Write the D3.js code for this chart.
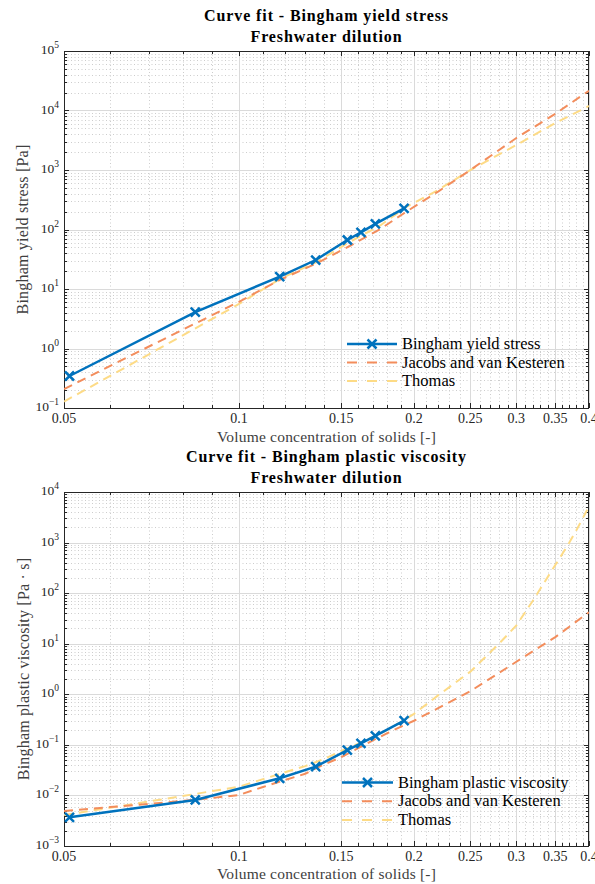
<!DOCTYPE html>
<html>
<head>
<meta charset="utf-8">
<script src="https://cdn.jsdelivr.net/npm/d3@7"></script>
<style>
  body { margin: 0; background: #fff; }
  text { font-family: "Liberation Serif", "Times New Roman", serif; }
</style>
</head>
<body>
<div id="chart"></div>
<script>
// x ticks shared by both panels
const xTicks = [0.05, 0.1, 0.15, 0.2, 0.25, 0.3, 0.35, 0.4];
const xTickLabels = ["0.05", "0.1", "0.15", "0.2", "0.25", "0.3", "0.35", "0.4"];

// measured points (volume concentration)
const measX = [0.0511, 0.0841, 0.1175, 0.1355, 0.1536, 0.1621, 0.1716, 0.1923];
const yieldMeas = [0.345, 4.1, 16.1, 30.7, 66.6, 89.7, 124, 227];
const viscMeas = [0.00369, 0.00813, 0.0218, 0.037, 0.079, 0.107, 0.150, 0.30];

// yield stress fits
const yieldFitX = [0.05, 0.07, 0.1, 0.1175, 0.136, 0.155, 0.175, 0.194, 0.22, 0.25, 0.3, 0.35, 0.4];
const yieldJvK = [0.208, 1.08, 6.1, 14.2, 27.0, 52.8, 102, 199, 434, 1000, 3450, 8800, 21500];
const yieldThomas = [0.128, 0.80, 5.6, 14.7, 28.4, 61.7, 117, 239, 461, 1000, 2630, 6170, 11900];

// plastic viscosity fits
const viscJvKX = [0.05, 0.06, 0.07, 0.08, 0.09, 0.1, 0.11, 0.12, 0.13, 0.14, 0.15, 0.16, 0.17, 0.18, 0.19, 0.2, 0.25, 0.3, 0.35, 0.4];
const viscJvK = [0.0049, 0.0059, 0.0068, 0.0078, 0.0089, 0.0102, 0.0147, 0.0202, 0.0268, 0.041, 0.057, 0.085, 0.123, 0.17, 0.23, 0.30, 1.15, 4.4, 13.5, 42];
const viscThomasX = [0.05, 0.06, 0.07, 0.08, 0.09, 0.1, 0.11, 0.12, 0.13, 0.14, 0.15, 0.16, 0.17, 0.18, 0.19, 0.2, 0.22, 0.25, 0.28, 0.3, 0.32, 0.35, 0.36, 0.37, 0.38, 0.39, 0.4];
const viscThomas = [0.0041, 0.0057, 0.0076, 0.0097, 0.0122, 0.0149, 0.021, 0.0287, 0.038, 0.0525, 0.0757, 0.104, 0.143, 0.197, 0.283, 0.41, 0.95, 2.8, 10, 23, 70, 360, 600, 1000, 1700, 3000, 5200];

const blue = "#0072BD", orange = "#F38D5C", yellow = "#FDDB86";
const axisCol = "#262626";

const svg = d3.select("#chart").append("svg")
  .attr("width", 595)
  .attr("height", 884);

function panel(cfg) {
  const left = 64, right = 589;
  const x = d3.scaleLog().domain([0.05, 0.4]).range([left, right]);
  const y = d3.scaleLog().domain(cfg.yDomain).range([cfg.bottom, cfg.top]);
  const g = svg.append("g");
  const px = v => Math.round(v) + 0.5;

  const e0 = Math.round(Math.log10(cfg.yDomain[0])), e1 = Math.round(Math.log10(cfg.yDomain[1]));
  const yMajor = d3.range(e0, e1 + 1).map(e => Math.pow(10, e));
  const yMinor = [];
  d3.range(e0, e1).forEach(e => { for (let m = 2; m <= 9; m++) yMinor.push(m * Math.pow(10, e)); });
  const xMinor = d3.range(6, 40).map(d => d / 100).filter(d => xTicks.indexOf(d) < 0);

  // minor grid (dotted)
  g.selectAll(".gyminor").data(yMinor).join("line")
    .attr("x1", left).attr("x2", right)
    .attr("y1", d => px(y(d))).attr("y2", d => px(y(d)))
    .attr("stroke", "#cdcdcd").attr("stroke-dasharray", "1,2.5");
  g.selectAll(".gxminor").data(xMinor).join("line")
    .attr("x1", d => px(x(d))).attr("x2", d => px(x(d)))
    .attr("y1", cfg.top).attr("y2", cfg.bottom)
    .attr("stroke", "#cdcdcd").attr("stroke-dasharray", "1,2.5");

  // major grid
  g.selectAll(".gymajor").data(yMajor).join("line")
    .attr("x1", left).attr("x2", right)
    .attr("y1", d => px(y(d))).attr("y2", d => px(y(d)))
    .attr("stroke", "#dadada");
  g.selectAll(".gxmajor").data(xTicks).join("line")
    .attr("x1", d => px(x(d))).attr("x2", d => px(x(d)))
    .attr("y1", cfg.top).attr("y2", cfg.bottom)
    .attr("stroke", "#dadada");

  // ticks on all four sides (inward)
  const tk = g.append("g").attr("stroke", axisCol);
  xTicks.forEach(d => {
    tk.append("line").attr("x1", px(x(d))).attr("x2", px(x(d))).attr("y1", cfg.bottom).attr("y2", cfg.bottom - 5);
    tk.append("line").attr("x1", px(x(d))).attr("x2", px(x(d))).attr("y1", cfg.top).attr("y2", cfg.top + 5);
  });
  xMinor.forEach(d => {
    tk.append("line").attr("x1", px(x(d))).attr("x2", px(x(d))).attr("y1", cfg.bottom).attr("y2", cfg.bottom - 3);
    tk.append("line").attr("x1", px(x(d))).attr("x2", px(x(d))).attr("y1", cfg.top).attr("y2", cfg.top + 3);
  });
  yMajor.forEach(d => {
    tk.append("line").attr("y1", px(y(d))).attr("y2", px(y(d))).attr("x1", left).attr("x2", left + 5);
    tk.append("line").attr("y1", px(y(d))).attr("y2", px(y(d))).attr("x1", right).attr("x2", right - 5);
  });
  yMinor.forEach(d => {
    tk.append("line").attr("y1", px(y(d))).attr("y2", px(y(d))).attr("x1", left).attr("x2", left + 3);
    tk.append("line").attr("y1", px(y(d))).attr("y2", px(y(d))).attr("x1", right).attr("x2", right - 3);
  });

  // box
  g.append("rect")
    .attr("x", left + 0.5).attr("y", cfg.top + 0.5)
    .attr("width", right - left - 1).attr("height", cfg.bottom - cfg.top)
    .attr("fill", "none").attr("stroke", axisCol);

  // tick labels
  g.selectAll(".xtl").data(xTicks).join("text")
    .attr("x", d => x(d)).attr("y", cfg.bottom + 15)
    .attr("text-anchor", "middle").attr("font-size", 14)
    .attr("fill", axisCol)
    .text((d, i) => xTickLabels[i]);
  const ytl = g.selectAll(".ytl").data(yMajor).join("text")
    .attr("x", 59).attr("y", d => y(d) + 3)
    .attr("text-anchor", "end").attr("font-size", 13.5)
    .attr("fill", axisCol);
  ytl.append("tspan").text("10");
  ytl.append("tspan").attr("dy", -6).attr("font-size", 9.5)
    .text(d => String(Math.round(Math.log10(d))).replace("-", "\u2212"));

  // titles and axis labels
  cfg.title.forEach((t, i) => {
    svg.append("text").attr("x", (left + right) / 2).attr("y", cfg.titleY[i])
      .attr("text-anchor", "middle").attr("font-size", 16).attr("font-weight", "bold")
      .attr("letter-spacing", 0.9).attr("fill", "#000").text(t);
  });
  svg.append("text").attr("x", (left + right) / 2).attr("y", cfg.xLabelY)
    .attr("text-anchor", "middle").attr("font-size", 15.5).attr("letter-spacing", 0.2)
    .attr("fill", "#404040").text("Volume concentration of solids [-]");
  svg.append("text")
    .attr("transform", `translate(${cfg.yLabelX},${(cfg.top + cfg.bottom) / 2}) rotate(-90)`)
    .attr("text-anchor", "middle").attr("font-size", 16).attr("letter-spacing", 0.2)
    .attr("fill", "#404040").text(cfg.yLabel);

  // data
  const clipId = "clip" + cfg.top;
  svg.append("clipPath").attr("id", clipId).append("rect")
    .attr("x", left).attr("y", cfg.top).attr("width", right - left).attr("height", cfg.bottom - cfg.top);
  const plot = svg.append("g").attr("clip-path", `url(#${clipId})`);
  const line = d3.line().x(d => x(d[0])).y(d => y(d[1]));

  plot.append("path").datum(d3.zip(cfg.thomasX, cfg.thomas))
    .attr("d", line).attr("fill", "none").attr("stroke", yellow)
    .attr("stroke-width", 2).attr("stroke-dasharray", "9,6");
  plot.append("path").datum(d3.zip(cfg.jvkX, cfg.jvk))
    .attr("d", line).attr("fill", "none").attr("stroke", orange)
    .attr("stroke-width", 2).attr("stroke-dasharray", "9,6");
  plot.append("path").datum(d3.zip(measX, cfg.meas))
    .attr("d", line).attr("fill", "none").attr("stroke", blue)
    .attr("stroke-width", 2.5);
  const mk = 4.5;
  plot.selectAll(".mk").data(d3.zip(measX, cfg.meas)).join("path")
    .attr("d", d => {
      const cx = x(d[0]), cy = y(d[1]);
      return `M${cx - mk},${cy - mk}L${cx + mk},${cy + mk}M${cx - mk},${cy + mk}L${cx + mk},${cy - mk}`;
    })
    .attr("stroke", blue).attr("stroke-width", 2.5).attr("fill", "none");

  // legend
  const lg = svg.append("g");
  const items = [
    { name: cfg.measName, col: blue, dash: null, marker: true },
    { name: "Jacobs and van Kesteren", col: orange, dash: "10,10" },
    { name: "Thomas", col: yellow, dash: "10,10" }
  ];
  items.forEach((it, i) => {
    const yy = cfg.legend.y + i * cfg.legend.dy;
    lg.append("line").attr("x1", cfg.legend.x1).attr("x2", cfg.legend.x2)
      .attr("y1", yy).attr("y2", yy)
      .attr("stroke", it.col).attr("stroke-width", it.marker ? 2.5 : 2)
      .attr("stroke-dasharray", it.dash);
    if (it.marker) {
      const cx = (cfg.legend.x1 + cfg.legend.x2) / 2;
      lg.append("path")
        .attr("d", `M${cx - mk},${yy - mk}L${cx + mk},${yy + mk}M${cx - mk},${yy + mk}L${cx + mk},${yy - mk}`)
        .attr("stroke", blue).attr("stroke-width", 2.5);
    }
    lg.append("text").attr("x", cfg.legend.tx).attr("y", yy + 5)
      .attr("font-size", 16.5).attr("fill", "#000").text(it.name);
  });
}

panel({
  top: 51, bottom: 408, yDomain: [1e-1, 1e5],
  title: ["Curve fit - Bingham yield stress", "Freshwater dilution"], titleY: [20.5, 41.5],
  xLabelY: 442, yLabelX: 28, yLabel: "Bingham yield stress [Pa]",
  meas: yieldMeas, measName: "Bingham yield stress",
  jvkX: yieldFitX, jvk: yieldJvK, thomasX: yieldFitX, thomas: yieldThomas,
  legend: { x1: 347, x2: 397, tx: 402, y: 344, dy: 18.5 }
});

panel({
  top: 492, bottom: 846, yDomain: [1e-3, 1e4],
  title: ["Curve fit - Bingham plastic viscosity", "Freshwater dilution"], titleY: [462, 483],
  xLabelY: 879, yLabelX: 28.5, yLabel: "Bingham plastic viscosity [Pa \u00b7 s]",
  meas: viscMeas, measName: "Bingham plastic viscosity",
  jvkX: viscJvKX, jvk: viscJvK, thomasX: viscThomasX, thomas: viscThomas,
  legend: { x1: 342, x2: 393, tx: 398, y: 782.5, dy: 18.7 }
});
</script>
</body>
</html>
